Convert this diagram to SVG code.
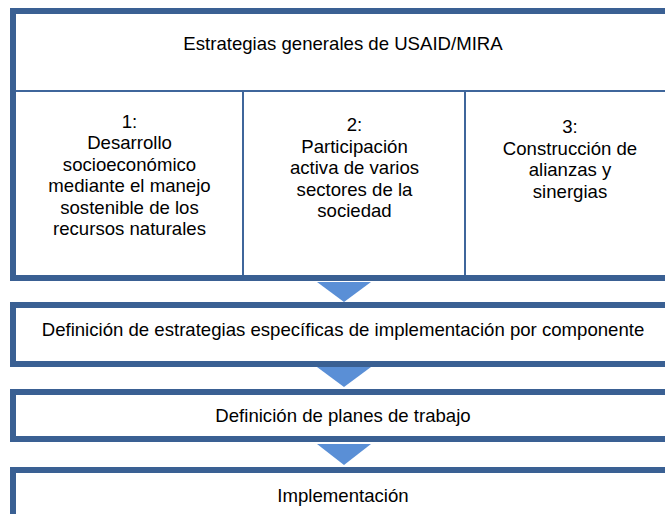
<svg xmlns="http://www.w3.org/2000/svg" width="665" height="514" viewBox="0 0 665 514">
  <style>
    .box { fill: #ffffff; stroke: #3a6093; stroke-width: 6; }
    .thin { stroke: #3f669b; stroke-width: 2; fill: none; }
    .arrow { fill: #5a8fd6; }
    text { font-family: "Liberation Sans", Arial, sans-serif; font-size: 18.6px; fill: #000000; text-anchor: middle; }
  </style>
  <rect width="665" height="514" fill="#ffffff"/>
  <g id="general">
    <rect class="box" x="13" y="11" width="662" height="267"/>
    <line class="thin" x1="16" y1="91" x2="665" y2="91"/>
    <line class="thin" x1="243" y1="92" x2="243" y2="275"/>
    <line class="thin" x1="465" y1="92" x2="465" y2="275"/>
    <text x="343" y="50">Estrategias generales de USAID/MIRA</text>
  </g>
  <g id="strategy1">
    <text x="129.5" y="127.5">1:</text>
    <text x="129.5" y="149">Desarrollo</text>
    <text x="129.5" y="170.5">socioeconómico</text>
    <text x="129.5" y="192">mediante el manejo</text>
    <text x="129.5" y="213.5">sostenible de los</text>
    <text x="129.5" y="235">recursos naturales</text>
  </g>
  <g id="strategy2">
    <text x="354.5" y="131">2:</text>
    <text x="354.5" y="152.5">Participación</text>
    <text x="354.5" y="174">activa de varios</text>
    <text x="354.5" y="195.5">sectores de la</text>
    <text x="354.5" y="217">sociedad</text>
  </g>
  <g id="strategy3">
    <text x="570" y="133">3:</text>
    <text x="570" y="154.5">Construcción de</text>
    <text x="570" y="176">alianzas y</text>
    <text x="570" y="197.5">sinergias</text>
  </g>
  <g id="specific">
    <rect class="box" x="13" y="305" width="662" height="59"/>
    <text x="343" y="336">Definición de estrategias específicas de implementación por componente</text>
  </g>
  <g id="plans">
    <rect class="box" x="13" y="392" width="662" height="47"/>
    <text x="343" y="422">Definición de planes de trabajo</text>
  </g>
  <g id="implementation">
    <rect class="box" x="13" y="470" width="662" height="60"/>
    <text x="343" y="502">Implementación</text>
  </g>
  <g id="connectors">
    <polygon class="arrow" points="317,282 371,282 344,302"/>
    <polygon class="arrow" points="317,367 371,367 344,387"/>
    <polygon class="arrow" points="317,444 371,444 344,465"/>
  </g>
</svg>
